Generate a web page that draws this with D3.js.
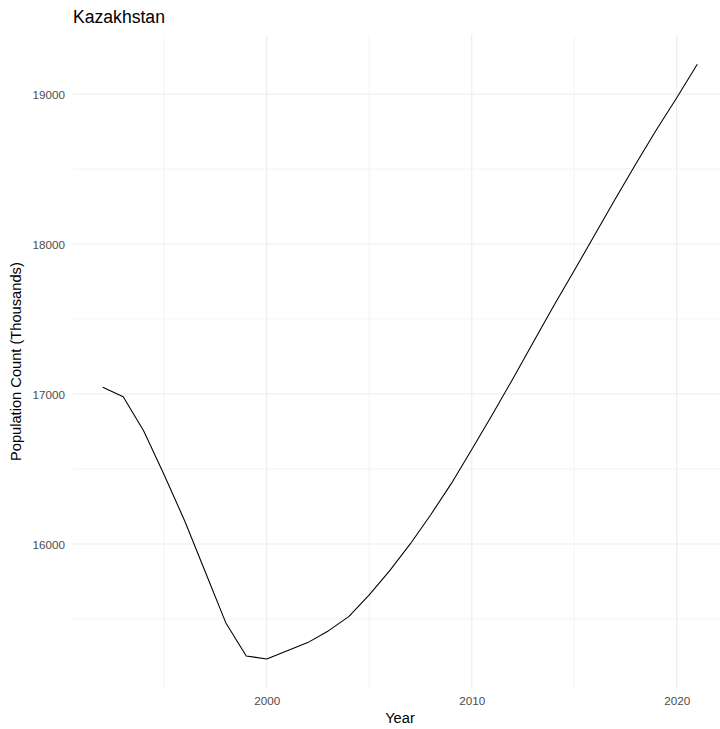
<!DOCTYPE html>
<html>
<head>
<meta charset="utf-8">
<script src="https://cdn.jsdelivr.net/npm/d3@7"></script>
<style>
  html, body { margin: 0; padding: 0; background: #fff; }
  svg { display: block; font-family: "Liberation Sans", Arial, Helvetica, sans-serif; }
</style>
</head>
<body>
<svg id="chart" width="720" height="729"></svg>
<script>
const title = "Kazakhstan";
const xTitle = "Year";
const yTitle = "Population Count (Thousands)";
const years = [1992,1993,1994,1995,1996,1997,1998,1999,2000,2001,2002,2003,2004,2005,2006,2007,2008,2009,2010,2011,2012,2013,2014,2015,2016,2017,2018,2019,2020,2021];
const population = [17045,16982,16753,16460,16153,15815,15475,15253,15233,15287,15342,15420,15515,15660,15822,16000,16195,16402,16630,16862,17100,17345,17588,17823,18061,18300,18533,18760,18975,19198];
const xMajor = [2000, 2010, 2020];
const xMinor = [1995, 2005, 2015];
const yMajor = [16000, 17000, 18000, 19000];
const yMinor = [15500, 16500, 17500, 18500];

const svg = d3.select("#chart");
const panel = { left: 73, right: 727, top: 34.6, bottom: 688.7 };

const xExt = d3.extent(years);
const xPad = (xExt[1] - xExt[0]) * 0.05;
const x = d3.scaleLinear().domain([xExt[0] - xPad, xExt[1] + xPad]).range([panel.left, panel.right]);
const yExt = d3.extent(population);
const yPad = (yExt[1] - yExt[0]) * 0.05;
const y = d3.scaleLinear().domain([yExt[0] - yPad, yExt[1] + yPad]).range([panel.bottom, panel.top]);

const grid = svg.append("g");
grid.selectAll(".ymin").data(yMinor).join("line")
  .attr("x1", panel.left).attr("x2", panel.right)
  .attr("y1", d => y(d)).attr("y2", d => y(d))
  .attr("stroke", "#EBEBEB").attr("stroke-width", 0.6);
grid.selectAll(".xmin").data(xMinor).join("line")
  .attr("y1", panel.top).attr("y2", panel.bottom)
  .attr("x1", d => x(d)).attr("x2", d => x(d))
  .attr("stroke", "#EBEBEB").attr("stroke-width", 0.6);
grid.selectAll(".ymaj").data(yMajor).join("line")
  .attr("x1", panel.left).attr("x2", panel.right)
  .attr("y1", d => y(d)).attr("y2", d => y(d))
  .attr("stroke", "#EBEBEB").attr("stroke-width", 1.07);
grid.selectAll(".xmaj").data(xMajor).join("line")
  .attr("y1", panel.top).attr("y2", panel.bottom)
  .attr("x1", d => x(d)).attr("x2", d => x(d))
  .attr("stroke", "#EBEBEB").attr("stroke-width", 1.07);

// axes (tick labels only)
const xAxis = d3.axisBottom(x).tickValues(xMajor).tickSize(0).tickPadding(0).tickFormat(d3.format("d"));
const gx = svg.append("g").attr("transform", `translate(0, ${panel.bottom})`).call(xAxis);
gx.select(".domain").remove();
gx.selectAll("text").attr("dy", null).attr("y", 16.5)
  .attr("fill", "#4D4D4D").style("font-size", "11.7px")
  .style("font-family", '"Liberation Sans", Arial, Helvetica, sans-serif');

const yAxis = d3.axisLeft(y).tickValues(yMajor).tickSize(0).tickPadding(0).tickFormat(d3.format("d"));
const gy = svg.append("g").attr("transform", `translate(${panel.left}, 0)`).call(yAxis);
gy.select(".domain").remove();
gy.selectAll("text").attr("x", -8).attr("dy", "0.35em")
  .attr("fill", "#4D4D4D").style("font-size", "11.7px")
  .style("font-family", '"Liberation Sans", Arial, Helvetica, sans-serif');

// line
const line = d3.line().x((d, i) => x(years[i])).y(d => y(d));
svg.append("path").datum(population)
  .attr("d", line).attr("fill", "none")
  .attr("stroke", "#000").attr("stroke-width", 1.07)
  .attr("stroke-linejoin", "round");

// titles
svg.append("text").attr("x", 73).attr("y", 23)
  .style("font-size", "17.6px").attr("fill", "#000").text(title);
svg.append("text").attr("x", (panel.left + panel.right) / 2).attr("y", 723)
  .attr("text-anchor", "middle").style("font-size", "14.67px").attr("fill", "#000").text(xTitle);
svg.append("text")
  .attr("transform", `translate(21, ${(panel.top + panel.bottom) / 2}) rotate(-90)`)
  .attr("text-anchor", "middle").style("font-size", "14.67px").attr("fill", "#000").text(yTitle);
</script>
</body>
</html>
